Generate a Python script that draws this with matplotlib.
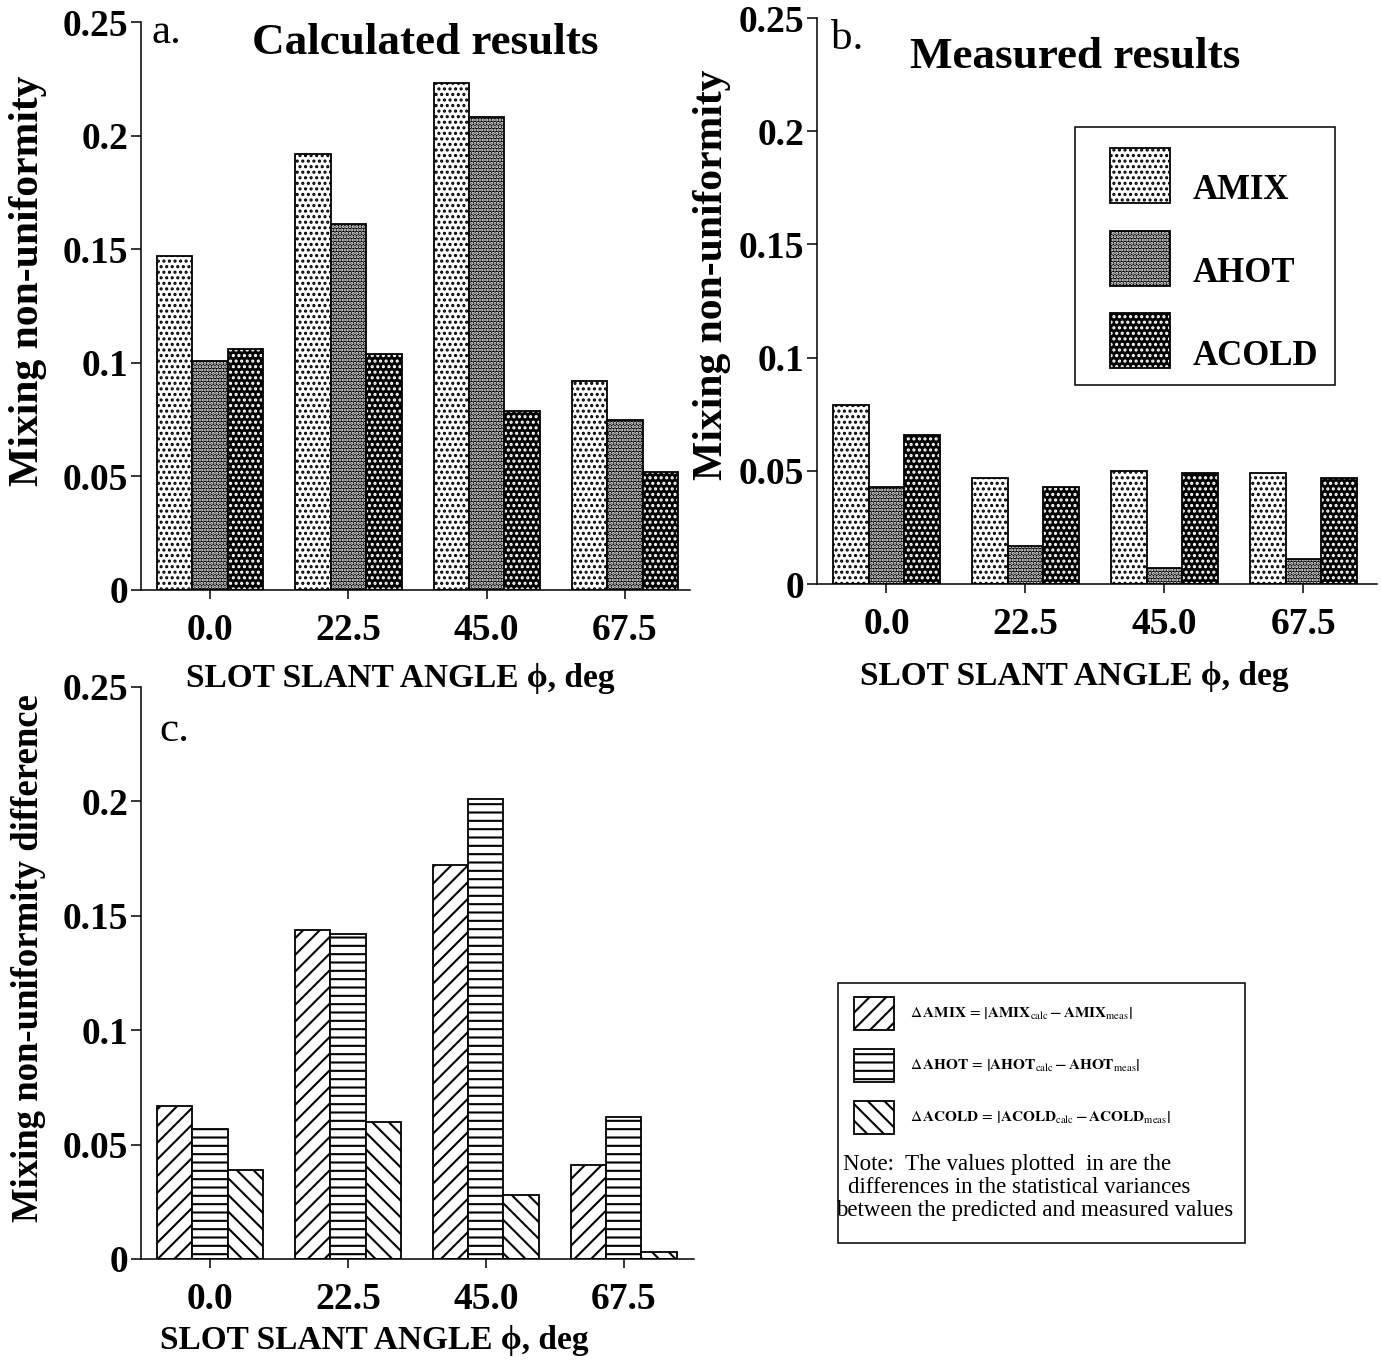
import matplotlib
matplotlib.use('Agg')
import matplotlib.pyplot as plt
import numpy as np
from matplotlib.patches import Rectangle
from matplotlib.container import BarContainer
from matplotlib.legend_handler import HandlerPatch, update_from_first_child

plt.rcParams['font.family'] = ['Liberation Serif', 'DejaVu Serif']
plt.rcParams['mathtext.fontset'] = 'stix'
plt.rcParams['hatch.linewidth'] = 1.5

W, H = 1381, 1361

angles = ['0.0', '22.5', '45.0', '67.5']
y_ticks = [0, 0.05, 0.1, 0.15, 0.2, 0.25]
y_tick_labels = ['0', '0.05', '0.1', '0.15', '0.2', '0.25']
series = ['AMIX', 'AHOT', 'ACOLD']

# calculated results
amix_calc = [0.147, 0.192, 0.223, 0.092]
ahot_calc = [0.101, 0.161, 0.208, 0.075]
acold_calc = [0.106, 0.104, 0.079, 0.052]

# measured results
amix_meas = [0.079, 0.047, 0.050, 0.049]
ahot_meas = [0.043, 0.017, 0.007, 0.011]
acold_meas = [0.066, 0.043, 0.049, 0.047]

# differences
d_amix = [0.067, 0.144, 0.172, 0.041]
d_ahot = [0.057, 0.142, 0.201, 0.062]
d_acold = [0.039, 0.060, 0.028, 0.003]

# face colour, hatch, hatch colour for the stippled bars
dot_styles = [('white', '...', 'black'),
              ('black', '.....', 'white'),
              ('black', '...', 'white')]
line_hatches = ['//', '--', '\\\\']

bw = 0.256
x = np.arange(len(angles))


def fx(px):
    return px / W


def fy(py):
    return 1 - py / H


def add_ax(l, t, r, b):
    ax = fig.add_axes([fx(l), fy(b), (r - l) / W, (b - t) / H])
    ax.patch.set_visible(False)
    return ax


def style_axes(ax, xlim):
    ax.set_xlim(*xlim)
    ax.set_ylim(0, 0.25)
    ax.spines[['top', 'right']].set_visible(False)
    for s in ['left', 'bottom']:
        ax.spines[s].set_linewidth(1.1)
    ax.set_xticks(x)
    ax.set_xticklabels(angles, fontsize=27, fontweight='bold')
    ax.set_yticks(y_ticks)
    ax.set_yticklabels(y_tick_labels, fontsize=27, fontweight='bold')
    ax.tick_params(axis='y', length=7.5, width=1.1, pad=1.5)
    ax.tick_params(axis='x', length=6.5, width=1.1, pad=10)


def dotted_bars(ax, values):
    handles = []
    for i, (vals, (face, hatch, hc)) in enumerate(zip(values, dot_styles)):
        pos = x + (i - 1) * bw
        fill = ax.bar(pos, vals, bw, color=face, hatch=hatch, edgecolor=hc, linewidth=0)
        edge = ax.bar(pos, vals, bw, fill=False, edgecolor='black', linewidth=1.3)
        handles.append((fill, edge))
    return handles


def set_labels(ax, ylab, ysize, ycoords, xcoords):
    ax.set_ylabel(ylab, fontsize=ysize, fontweight='bold')
    ax.yaxis.set_label_coords(*ycoords)
    ax.yaxis.label.set_verticalalignment('center')
    ax.set_xlabel('SLOT SLANT ANGLE ϕ, deg', fontsize=24, fontweight='bold')
    ax.xaxis.set_label_coords(*xcoords)
    ax.xaxis.label.set_verticalalignment('center')


# legend swatches sit a little above their label's centre line
def raised_patch(legend, orig_handle, xdescent, ydescent, width, height, fontsize):
    return Rectangle((-xdescent, -ydescent + 9.4), width, height)


fig = plt.figure(figsize=(W / 100, H / 100), dpi=100)

# a. calculated
ax_a = add_ax(141, 22, 690, 590)
dotted_bars(ax_a, [amix_calc, ahot_calc, acold_calc])
style_axes(ax_a, (-0.5, 3.47))
set_labels(ax_a, 'Mixing non-uniformity', 30, (-0.206, 0.544), (0.472, -0.155))
ax_a.text(0.02, 0.963, 'a.', transform=ax_a.transAxes, fontsize=31, va='baseline')
ax_a.text(0.517, 0.944, 'Calculated results', transform=ax_a.transAxes,
          fontsize=32.5, fontweight='bold', ha='center', va='baseline')

# b. measured
ax_b = add_ax(817, 18, 1377, 584)
hb = dotted_bars(ax_b, [amix_meas, ahot_meas, acold_meas])
style_axes(ax_b, (-0.5, 3.53))
set_labels(ax_b, 'Mixing non-uniformity', 30, (-0.1875, 0.546), (0.459, -0.163))
ax_b.text(0.025, 0.946, 'b.', transform=ax_b.transAxes, fontsize=31, va='baseline')
ax_b.text(0.461, 0.912, 'Measured results', transform=ax_b.transAxes,
          fontsize=32.5, fontweight='bold', ha='center', va='baseline')

fig.add_artist(Rectangle((fx(1075), fy(385)), (1335 - 1075) / W, (385 - 127) / H,
                         transform=fig.transFigure, fill=False, linewidth=1.1))
fig.legend(hb, series, loc='upper left', bbox_to_anchor=(fx(1110), fy(161)),
           borderaxespad=0, borderpad=0, frameon=False,
           prop={'weight': 'bold', 'size': 25},
           handler_map={BarContainer: HandlerPatch(patch_func=raised_patch,
                                                   update_func=update_from_first_child)},
           handlelength=1.73, handleheight=2.06, labelspacing=0.8, handletextpad=0.66)

# c. differences
ax_c = add_ax(141, 687, 694, 1259)
hc = []
for i, (vals, hatch) in enumerate(zip([d_amix, d_ahot, d_acold], line_hatches)):
    hc.append(ax_c.bar(x + (i - 1) * bw, vals, bw, color='white', hatch=hatch,
                       edgecolor='black', linewidth=1.3))
style_axes(ax_c, (-0.5, 3.51))
set_labels(ax_c, 'Mixing non-uniformity difference', 26.5, (-0.204, 0.526), (0.421, -0.142))
ax_c.text(0.034, 0.906, 'c.', transform=ax_c.transAxes, fontsize=31, va='baseline')

fig.add_artist(Rectangle((fx(838), fy(1243)), (1245 - 838) / W, (1243 - 983) / H,
                         transform=fig.transFigure, fill=False, linewidth=1.1))
diff_labels = [
    r'$\Delta\,\mathbf{AMIX}\,=\,\left|\mathbf{AMIX}_{\rm calc}\,\mathbf{-\,AMIX}_{\rm meas}\right|$',
    r'$\Delta\,\mathbf{AHOT}\,=\,\left|\mathbf{AHOT}_{\rm calc}\,\mathbf{-\,AHOT}_{\rm meas}\right|$',
    r'$\Delta\,\mathbf{ACOLD}\,=\,\left|\mathbf{ACOLD}_{\rm calc}\,\mathbf{-\,ACOLD}_{\rm meas}\right|$',
]
fig.legend(hc, diff_labels, loc='upper left', bbox_to_anchor=(fx(854), fy(997)),
           borderaxespad=0, borderpad=0, frameon=False, fontsize=11,
           handlelength=2.62, handleheight=2.95, labelspacing=1.245, handletextpad=1.05)

note_lines = [(843, 1170, 'Note:  The values plotted  in are the'),
              (848, 1193, 'differences in the statistical variances'),
              (836, 1216, 'between the predicted and measured values')]
for nx, ny, line in note_lines:
    fig.text(fx(nx), fy(ny), line, fontsize=16.5, va='baseline', ha='left')

fig.savefig('out.png', dpi=100)
